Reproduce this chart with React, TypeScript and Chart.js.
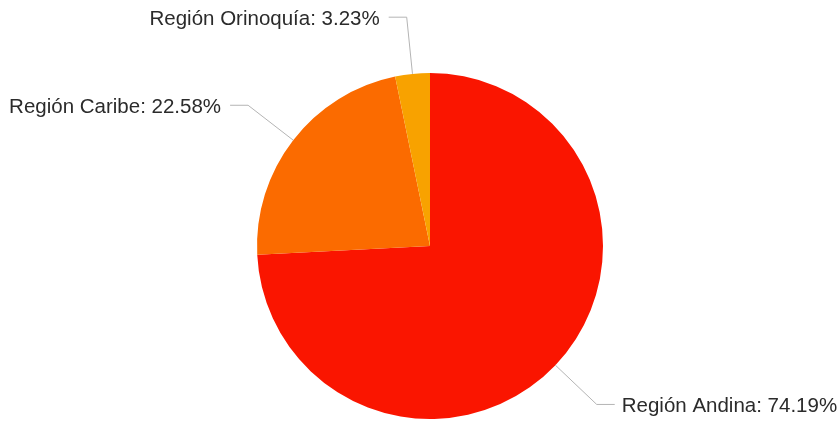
import React, { useEffect, useRef } from "react";
import { Chart, registerables } from "chart.js";

Chart.register(...registerables);

const regions = ["Región Andina", "Región Caribe", "Región Orinoquía"];
const shares = [74.19, 22.58, 3.23];
const sliceColors = ["#fa1500", "#fb6b00", "#f8a200"];

const leaderPlugin = {
  id: "leaderLabels",
  afterDatasetsDraw(chart: any) {
    const ctx = chart.ctx;
    const meta = chart.getDatasetMeta(0);
    ctx.save();
    ctx.font = "20.5px 'Liberation Sans', Arial, sans-serif";
    ctx.fillStyle = "#2b2b2b";
    ctx.strokeStyle = "#b4b4b4";
    ctx.lineWidth = 1;
    ctx.textBaseline = "middle";
    meta.data.forEach((arc: any, i: number) => {
      const { x, y, startAngle, endAngle, outerRadius } = arc.getProps(
        ["x", "y", "startAngle", "endAngle", "outerRadius"],
        true
      );
      const mid = (startAngle + endAngle) / 2;
      const cos = Math.cos(mid);
      const sin = Math.sin(mid);
      const sx = x + cos * outerRadius;
      const sy = y + sin * outerRadius;
      const er = outerRadius + 57;
      const ex = x + cos * er;
      const ey = y + sin * er;
      const right = cos >= 0;
      const hx = ex + (right ? 18 : -18);
      ctx.beginPath();
      ctx.moveTo(sx, sy);
      ctx.lineTo(ex, ey);
      ctx.lineTo(hx, ey);
      ctx.stroke();
      const text = `${regions[i]}: ${shares[i].toFixed(2)}%`;
      ctx.textAlign = right ? "left" : "right";
      ctx.fillText(text, hx + (right ? 7 : -9), ey + 2);
    });
    ctx.restore();
  },
};

export default function App() {
  const ref = useRef<HTMLCanvasElement | null>(null);
  useEffect(() => {
    document.body.style.margin = "0";
    const chart = new Chart(ref.current as HTMLCanvasElement, {
      type: "pie",
      data: {
        labels: regions,
        datasets: [
          {
            data: shares,
            backgroundColor: sliceColors,
            borderWidth: 0,
          },
        ],
      },
      options: {
        animation: false,
        responsive: false,
        layout: { padding: { top: 73, bottom: 6, left: 20, right: 0 } },
        plugins: {
          legend: { display: false },
          tooltip: { enabled: false },
        },
      },
      plugins: [leaderPlugin],
    });
    return () => chart.destroy();
  }, []);
  return (
    <div style={{ width: 840, height: 425, background: "#fff" }}>
      <canvas ref={ref} width={840} height={425} />
    </div>
  );
}
